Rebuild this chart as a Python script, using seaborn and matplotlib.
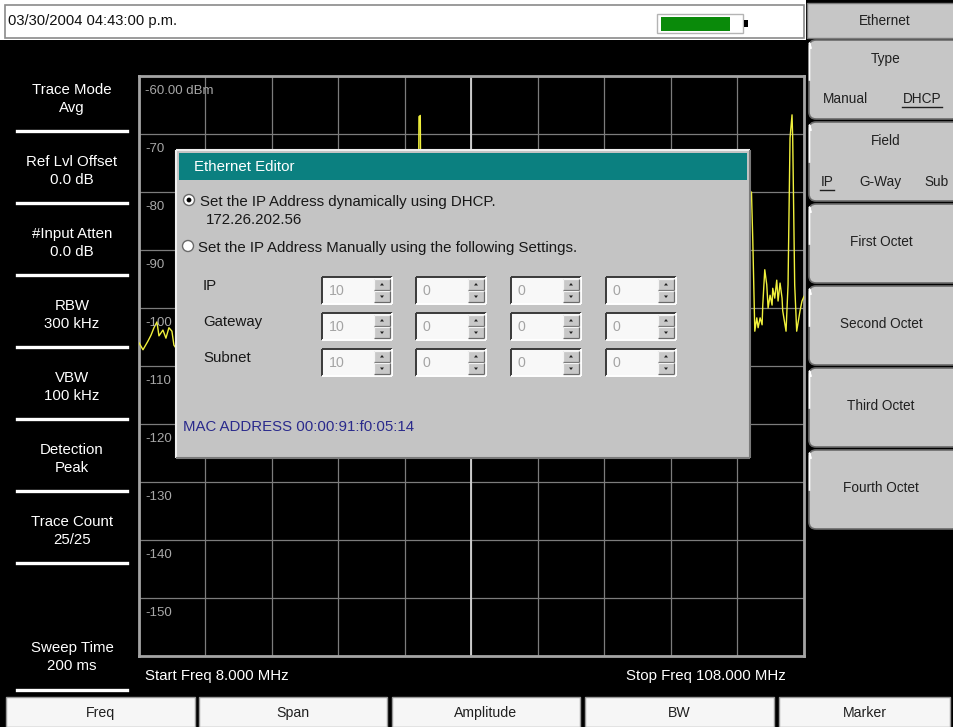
import matplotlib
matplotlib.use("Agg")
import matplotlib.pyplot as plt
from matplotlib.patches import Rectangle, FancyBboxPatch, Circle, Polygon
import seaborn as sns

# trace (MHz, dBm) - the middle part sits under the dialog
freq_mhz = [8.0, 8.6, 9.35, 9.8, 10.25, 10.7, 11.0, 11.6, 12.05, 12.5, 12.95, 13.25, 13.55,
            15.0, 18.5, 22.0, 26.0, 30.0, 34.0, 38.0, 42.0, 46.0, 49.0, 49.9, 50.1, 50.3, 50.5,
            51.5, 55.0, 59.0, 63.0, 67.0, 71.0, 75.0, 79.0, 83.0, 87.0, 91.0, 95.0, 98.2, 98.9,
            100.1, 100.3, 100.6, 100.9, 101.1, 101.4, 101.7, 101.8, 102.1, 102.4, 102.6, 102.9,
            103.2, 103.3, 103.6, 103.9, 104.1, 104.4, 104.7, 104.8, 105.3, 105.6, 105.9, 106.2,
            106.3, 106.6, 106.9, 107.4, 107.7, 108.0]
level_dbm = [-106.0, -107.2, -105.7, -104.7, -103.4, -102.4, -104.8, -103.8, -105.2, -103.4, -104.0, -106.4, -106.9,
             -104.5, -103.0, -105.5, -102.8, -104.6, -103.2, -105.1, -102.9, -104.4, -103.6, -104.0, -67.0, -66.8, -104.2,
             -103.1, -105.0, -102.6, -104.3, -103.5, -105.2, -102.7, -104.1, -103.3, -104.8, -102.9, -104.0, -101.5, -80.5,
             -80.0, -88.4, -104.0, -101.7, -103.4, -101.7, -102.9, -99.5, -93.4, -96.0, -100.0, -97.8,
             -99.5, -96.6, -98.3, -95.2, -98.8, -95.7, -98.3, -100.5, -104.0, -96.0, -70.7, -66.7,
             -70.7, -96.0, -104.0, -100.5, -98.8, -98.0]

start_mhz, stop_mhz = 8.0, 108.0
ref_dbm, db_per_div = -60.0, 10.0
level_labels = ["-60.00 dBm", "-70", "-80", "-90", "-100", "-110", "-120", "-130", "-140", "-150"]

status_date = "03/30/2004 04:43:00 p.m."
left_params = [("Trace Mode", "Avg"), ("Ref Lvl Offset", "0.0 dB"), ("#Input Atten", "0.0 dB"),
               ("RBW", "300 kHz"), ("VBW", "100 kHz"), ("Detection", "Peak"), ("Trace Count", "25/25")]
sweep_param = ("Sweep Time", "200 ms")
menu_title = "Ethernet"
type_opts = ["Manual", "DHCP"]
field_opts = ["IP", "G-Way", "Sub"]
octet_keys = ["First Octet", "Second Octet", "Third Octet", "Fourth Octet"]
bottom_keys = ["Freq", "Span", "Amplitude", "BW", "Marker"]

dlg_title = "Ethernet Editor"
dhcp_line = "Set the IP Address dynamically using DHCP."
dhcp_addr = "172.26.202.56"
manual_line = "Set the IP Address Manually using the following Settings."
ip_rows = ["IP", "Gateway", "Subnet"]
ip_values = [["10", "0", "0", "0"], ["10", "0", "0", "0"], ["10", "0", "0", "0"]]
mac_line = "MAC ADDRESS 00:00:91:f0:05:14"

W, H = 954, 727
FONT = ['Liberation Sans', 'DejaVu Sans']
plt.rcParams['font.family'] = FONT


def rect(a, x0, y0, x1, y1, fc, ec='none', lw=0, z=1):
    a.add_patch(Rectangle((x0, y0), x1 - x0, y1 - y0, facecolor=fc, edgecolor=ec, linewidth=lw, zorder=z))


def bevel(a, x0, y0, x1, y1, light, dark, lw=1.0, z=2):
    a.plot([x0, x1], [y0, y0], color=light, lw=lw, zorder=z, solid_capstyle='butt')
    a.plot([x0, x0], [y0, y1], color=light, lw=lw, zorder=z, solid_capstyle='butt')
    a.plot([x0, x1], [y1, y1], color=dark, lw=lw, zorder=z, solid_capstyle='butt')
    a.plot([x1, x1], [y0, y1], color=dark, lw=lw, zorder=z, solid_capstyle='butt')


def txt(a, x, y, s, size=10.8, color='white', ha='center', z=5):
    a.text(x, y, s, ha=ha, va='center', fontsize=size, color=color, zorder=z)


fig = plt.figure(figsize=(W / 100, H / 100), dpi=100, facecolor='black')

# background chrome
ui = fig.add_axes([0, 0, 1, 1], zorder=0)
ui.set_xlim(0, W)
ui.set_ylim(H, 0)
ui.axis('off')
ui.patch.set_alpha(0)

rect(ui, 0, 0, W, 40, 'white')
rect(ui, 5, 5, 804, 38, 'white', '#8a8a8a', 1.2)
txt(ui, 8, 21, status_date, size=10.6, color='#101010', ha='left')
rect(ui, 657, 14, 743, 33, 'white', '#b4b4b4', 1.0)
rect(ui, 661, 17, 730, 31, '#0a8a0a')
rect(ui, 744, 20, 748, 27, 'black')

# soft-key menu on the right
rect(ui, 806, 0, W, 40, 'black')
rect(ui, 807, 3, W, 38, '#c6c6c6', '#7a7a7a', 1.0)
txt(ui, 885, 21, menu_title, size=9.8, color='#202020')
btn_tops = [40 + 82 * i for i in range(6)]
for top in btn_tops:
    ui.add_patch(FancyBboxPatch((809, top), 150, 79, boxstyle="round,pad=0,rounding_size=7",
                                facecolor='#c6c6c6', edgecolor='#6a6a6a', linewidth=1.2, zorder=2))
    ui.plot([811, 809.5, 809.5], [top + 8, top + 3, top + 40], color='white', lw=1.2, zorder=3)

txt(ui, 886, btn_tops[0] + 19, "Type", size=9.8, color='#202020')
txt(ui, 845, btn_tops[0] + 59, type_opts[0], size=9.8, color='#202020')
txt(ui, 922, btn_tops[0] + 59, type_opts[1], size=9.8, color='#202020')
ui.plot([902, 942], [btn_tops[0] + 67] * 2, color='#202020', lw=1.0, zorder=4)
txt(ui, 886, btn_tops[1] + 19, "Field", size=9.8, color='#202020')
for xc, lab in zip([827, 880, 937], field_opts):
    txt(ui, xc, btn_tops[1] + 60, lab, size=9.8, color='#202020')
ui.plot([820, 834], [btn_tops[1] + 68] * 2, color='#202020', lw=1.0, zorder=4)
for top, lab in zip(btn_tops[2:], octet_keys):
    txt(ui, 881, top + 38, lab, size=9.8, color='#202020')

# parameter column on the left
for i, (name, val) in enumerate(left_params):
    y0 = 90 + 72 * i
    txt(ui, 72, y0, name)
    txt(ui, 72, y0 + 18, val)
    ui.plot([17, 127], [131 + 72 * i] * 2, color='white', lw=2.4, zorder=3)
txt(ui, 72, 648, sweep_param[0])
txt(ui, 72, 666, sweep_param[1])
ui.plot([17, 127], [690, 690], color='white', lw=2.4, zorder=3)

txt(ui, 145, 676, "Start Freq %.3f MHz" % start_mhz, ha='left')
txt(ui, 786, 676, "Stop Freq %.3f MHz" % stop_mhz, ha='right')

# bottom soft keys
key_edges = [(6, 195), (199, 387), (392, 580), (585, 774), (779, 950)]
for (x0, x1), lab in zip(key_edges, bottom_keys):
    rect(ui, x0, 697, x1, 727, '#f6f6f6', '#9a9a9a', 1.0)
    txt(ui, (x0 + x1) / 2, 713, lab, size=10.2, color='#202020')

# spectrum display
ax = fig.add_axes([139 / W, 1 - 656 / H, (804 - 139) / W, (656 - 76) / H], zorder=1)
ax.set_facecolor('black')
sns.lineplot(x=freq_mhz, y=level_dbm, ax=ax, color='#f0f03c', linewidth=1.0, zorder=3)
ax.set_xlim(start_mhz, stop_mhz)
ax.set_ylim(ref_dbm - 10 * db_per_div, ref_dbm)
ax.set_xticks([start_mhz + (stop_mhz - start_mhz) * i / 10 for i in range(11)])
ax.set_yticks([ref_dbm - db_per_div * i for i in range(11)])
ax.grid(True, color='#7c7c7c', linewidth=0.9)
ax.axvline((start_mhz + stop_mhz) / 2, color='#d4d4d4', linewidth=1.3, zorder=2)
ax.tick_params(length=0, labelbottom=False, labelleft=False)
ax.set_xlabel('')
ax.set_ylabel('')
for sp in ax.spines.values():
    sp.set_color('#a4a4a4')
    sp.set_linewidth(2.0)
for i, lab in enumerate(level_labels):
    ax.text(start_mhz + 0.9, ref_dbm - db_per_div * i - 2.5, lab, ha='left', va='center',
            fontsize=9.5, color='#a8a8a8', zorder=4)

# Ethernet editor dialog on top
top = fig.add_axes([0, 0, 1, 1], zorder=2)
top.set_xlim(0, W)
top.set_ylim(H, 0)
top.axis('off')
top.patch.set_alpha(0)

rect(top, 176, 150, 750, 458, '#c4c4c4')
bevel(top, 176, 150, 750, 458, '#eeeeee', '#7a7a7a', lw=1.5)
rect(top, 179, 153, 747, 180, '#0b8080')
txt(top, 194, 167, dlg_title, color='white', ha='left')

for (cx, cy), sel in [((189, 200), True), ((188, 246), False)]:
    top.add_patch(Circle((cx, cy), 5.5, facecolor='white', edgecolor='#6a6a6a', linewidth=1.0, zorder=3))
    if sel:
        top.add_patch(Circle((cx, cy), 2.4, facecolor='black', zorder=4))
txt(top, 200, 202, dhcp_line, color='#181818', ha='left')
txt(top, 206, 220, dhcp_addr, color='#181818', ha='left')
txt(top, 198, 248, manual_line, color='#181818', ha='left')

col_lefts = [322, 416, 511, 606]
row_tops = [277, 313, 349]
for r, (lab, vals) in enumerate(zip(ip_rows, ip_values)):
    t = row_tops[r]
    txt(top, 203, t + 9, lab, color='#181818', ha='left')
    for l, v in zip(col_lefts, vals):
        rect(top, l, t, l + 70, t + 27, '#f8f8f8', z=2)
        bevel(top, l, t, l + 70, t + 27, '#3a3a3a', '#ffffff', lw=1.4, z=3)
        for k in range(2):
            by = t + 2 + 12 * k
            rect(top, l + 52, by, l + 68, by + 11, '#c8c8c8', z=3)
            bevel(top, l + 52, by, l + 68, by + 11, '#f4f4f4', '#6a6a6a', lw=0.9, z=4)
            cx, cy = l + 60, by + 5.5
            tri = [(cx - 2, cy + 1), (cx + 2, cy + 1), (cx, cy - 1.5)] if k == 0 else \
                  [(cx - 2, cy - 1), (cx + 2, cy - 1), (cx, cy + 1.5)]
            top.add_patch(Polygon(tri, closed=True, facecolor='#202020', zorder=5))
        txt(top, l + 7, t + 14, v, size=10.2, color='#a4a4a4', ha='left')

txt(top, 183, 427, mac_line, color='#2a2a8c', ha='left')

fig.savefig('out.png', dpi=100, facecolor='black')
